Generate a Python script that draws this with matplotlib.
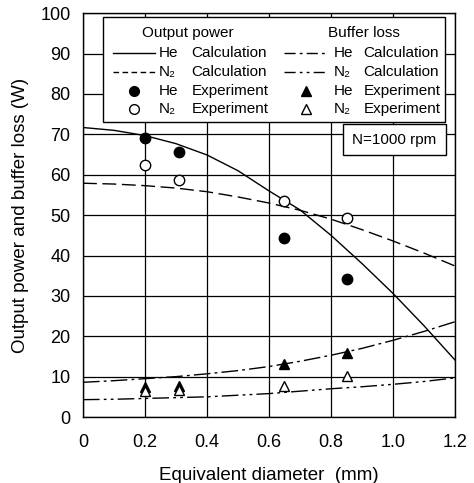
import matplotlib
matplotlib.use("Agg")
import matplotlib.pyplot as plt
from matplotlib.lines import Line2D
from matplotlib.patches import Rectangle

plt.rcParams['font.family'] = ['Liberation Sans', 'DejaVu Sans']

# Calculation curves
calc_x = [0.0, 0.1, 0.2, 0.3, 0.4, 0.5, 0.6, 0.7, 0.8, 0.9, 1.0, 1.1, 1.2]
he_power_calc = [71.7, 71.0, 69.7, 67.7, 64.9, 61.0, 56.0, 51.3, 45.0, 38.0, 30.6, 22.6, 14.1]
n2_power_calc = [57.9, 57.7, 57.3, 56.7, 55.8, 54.5, 53.0, 51.2, 49.0, 46.4, 43.6, 40.6, 37.4]
he_loss_calc = [8.6, 9.0, 9.5, 10.0, 10.7, 11.5, 12.5, 13.8, 15.3, 17.0, 19.0, 21.2, 23.6]
n2_loss_calc = [4.3, 4.4, 4.6, 4.8, 5.0, 5.4, 5.8, 6.4, 7.0, 7.5, 8.1, 8.8, 9.7]

# Experiments
exp_x = [0.2, 0.31, 0.65, 0.85]
he_power_exp = [69.2, 65.7, 44.4, 34.2]
n2_power_exp = [62.4, 58.7, 53.5, 49.4]
he_loss_exp = [7.5, 7.6, 13.1, 15.8]
n2_loss_exp = [6.5, 6.8, 7.7, 10.1]

xticks = [0, 0.2, 0.4, 0.6, 0.8, 1.0, 1.2]
xticklabels = ['0', '0.2', '0.4', '0.6', '0.8', '1.0', '1.2']
yticks = list(range(0, 101, 10))

fig = plt.figure(figsize=(4.74, 4.83), dpi=100)
ax = fig.add_axes([0.175, 0.1366, 0.785, 0.836])

lw = 1.0
ax.plot(calc_x, he_power_calc, color='black', lw=lw, ls='-')
ax.plot(calc_x, n2_power_calc, color='black', lw=lw, ls=(0, (10, 4)))
ax.plot(calc_x, he_loss_calc, color='black', lw=lw, ls=(0, (12, 3, 2, 3)))
ax.plot(calc_x, n2_loss_calc, color='black', lw=lw, ls=(0, (12, 3, 2, 3, 2, 3)))

ax.plot(exp_x, he_power_exp, 'o', ms=7.5, mfc='black', mec='black', mew=1.0)
ax.plot(exp_x, n2_power_exp, 'o', ms=7.5, mfc='white', mec='black', mew=1.0)
ax.plot(exp_x, he_loss_exp, '^', ms=7.5, mfc='black', mec='black', mew=1.0)
ax.plot(exp_x, n2_loss_exp, '^', ms=7.5, mfc='white', mec='black', mew=1.0)

ax.set_xlim(0, 1.2)
ax.set_ylim(0, 100)
ax.set_xticks(xticks)
ax.set_xticklabels(xticklabels)
ax.set_yticks(yticks)
ax.tick_params(length=0, labelsize=13)
ax.tick_params(axis='x', pad=12)
ax.tick_params(axis='y', pad=9)
ax.grid(True, color='black', lw=0.9)
ax.set_axisbelow(True)
for s in ax.spines.values():
    s.set_linewidth(1.0)

ax.set_xlabel('Equivalent diameter  (mm)', fontsize=13.5, labelpad=12)
ax.set_ylabel('Output power and buffer loss (W)', fontsize=13.5, labelpad=8)

# Legend box (manual)
T = ax.transAxes
ax.add_patch(Rectangle((0.053, 0.731), 0.920, 0.259, transform=T,
                       facecolor='white', edgecolor='black', lw=1.0, zorder=5))
fs = 11
ax.text(0.281, 0.952, 'Output power', transform=T, ha='center', va='center', fontsize=fs, zorder=6)
ax.text(0.755, 0.952, 'Buffer loss', transform=T, ha='center', va='center', fontsize=fs, zorder=6)

rows = [0.902, 0.855, 0.808, 0.764]
gases = ['He', 'N₂', 'He', 'N₂']
kinds = ['Calculation', 'Calculation', 'Experiment', 'Experiment']
col1 = [dict(ls='-'), dict(ls=(0, (4, 2.5))), dict(marker='o', mfc='black'), dict(marker='o', mfc='white')]
col2 = [dict(ls=(0, (8, 3, 2, 3))), dict(ls=(0, (8, 3, 2, 3, 2, 3))), dict(marker='^', mfc='black'), dict(marker='^', mfc='white')]

def handle(x0, x1, xm, y, spec):
    if 'marker' in spec:
        ax.add_line(Line2D([xm], [y], transform=T, marker=spec['marker'], ms=7,
                           mfc=spec['mfc'], mec='black', mew=1.0, ls='none', zorder=6))
    else:
        ax.add_line(Line2D([x0, x1], [y, y], transform=T, color='black', lw=1.0,
                           ls=spec['ls'], zorder=6))

for y, g, k, s1, s2 in zip(rows, gases, kinds, col1, col2):
    handle(0.0815, 0.1935, 0.138, y, s1)
    ax.text(0.2024, y, g, transform=T, ha='left', va='center', fontsize=fs, zorder=6)
    ax.text(0.292, y, k, transform=T, ha='left', va='center', fontsize=fs, zorder=6)
    handle(0.540, 0.651, 0.5995, y, s2)
    ax.text(0.675, y, g, transform=T, ha='left', va='center', fontsize=fs, zorder=6)
    ax.text(0.7535, y, k, transform=T, ha='left', va='center', fontsize=fs, zorder=6)

ax.add_patch(Rectangle((0.698, 0.650), 0.277, 0.0745, transform=T,
                       facecolor='white', edgecolor='black', lw=1.0, zorder=5))
ax.text(0.836, 0.687, 'N=1000 rpm', transform=T, ha='center', va='center', fontsize=fs, zorder=6)

fig.savefig('out.png', dpi=100)
